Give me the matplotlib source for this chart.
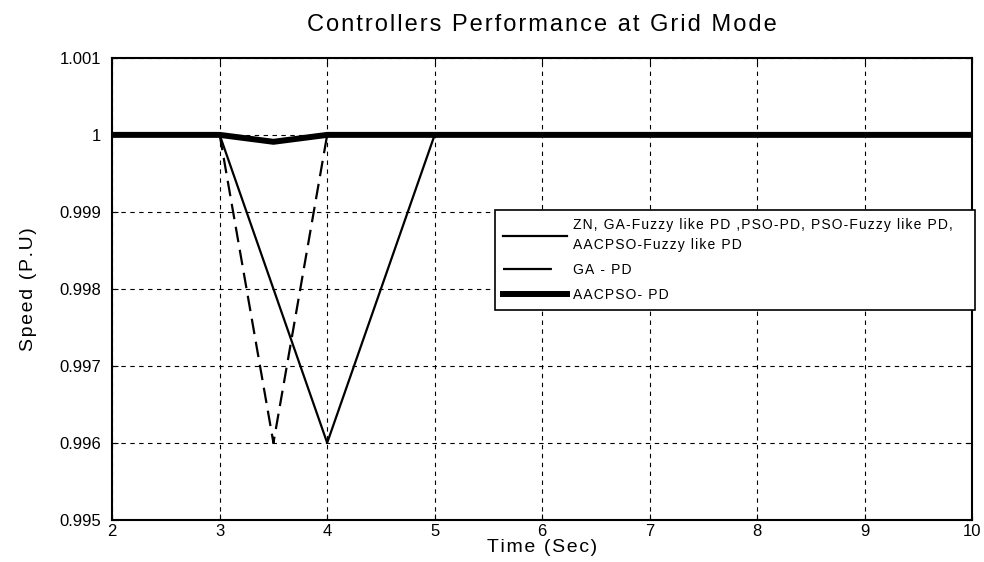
import matplotlib
matplotlib.use("Agg")
import matplotlib.pyplot as plt

plt.rcParams['font.family'] = ['Liberation Sans', 'DejaVu Sans']

# data
t_solid = [2, 3, 4, 5, 10]
w_solid = [1.0, 1.0, 0.996, 1.0, 1.0]
t_dash = [3, 3.5, 4]
w_dash = [1.0, 0.996, 1.0]
t_thick = [2, 3, 3.5, 4, 10]
w_thick = [1.0, 1.0, 0.99991, 1.0, 1.0]

labels = ['ZN, GA-Fuzzy like PD ,PSO-PD, PSO-Fuzzy like PD,\nAACPSO-Fuzzy like PD',
          'GA - PD',
          'AACPSO- PD']
xticks = [2, 3, 4, 5, 6, 7, 8, 9, 10]
yticks = [0.995, 0.996, 0.997, 0.998, 0.999, 1.0, 1.001]
ytick_labels = ['0.995', '0.996', '0.997', '0.998', '0.999', '1', '1.001']


def spaced(s, sp='\u200a'):
    # fake letter spacing, the original export had wide tracking
    return '\n'.join(sp.join(line) for line in s.split('\n'))


fig = plt.figure(figsize=(9.84, 5.62), dpi=100)
ax = fig.add_axes([0.114, 0.075, 0.874, 0.822])

l1, = ax.plot(t_solid, w_solid, color='k', lw=1.6)
l2, = ax.plot(t_dash, w_dash, color='k', lw=1.6, dashes=(7, 3.5))
l3, = ax.plot(t_thick, w_thick, color='k', lw=4.3)

ax.set_xlim(2, 10)
ax.set_ylim(0.995, 1.001)
ax.set_xticks(xticks)
ax.set_yticks(yticks)
ax.set_yticklabels(ytick_labels)
ax.tick_params(direction='in', labelsize=12, length=4, top=True, right=True)
ax.tick_params(axis='y', pad=8)
ax.tick_params(axis='x', pad=3)
ax.grid(True, color='k', linestyle=(0, (4, 4)), lw=0.8)
for s in ax.spines.values():
    s.set_linewidth(1.5)

ax.set_title(spaced('Controllers Performance at Grid Mode'), fontsize=17, pad=19)
ax.set_xlabel(spaced('Time (Sec)'), fontsize=14, labelpad=0)
ax.set_ylabel(spaced('Speed (P.U)'), fontsize=14, labelpad=16)

h2 = plt.Line2D([], [], color='k', lw=1.6, dashes=(22, 10))
leg = ax.legend([l1, h2, l3], [spaced(l) for l in labels], loc='upper left',
                bbox_to_anchor=(0.445, 0.455, 0.558, 0.216), mode='expand',
                fontsize=10, fancybox=False, framealpha=1, edgecolor='k',
                handlelength=4.6, handletextpad=0.4, labelspacing=0.8,
                borderpad=0.6, borderaxespad=0)
leg.get_frame().set_linewidth(1.2)
leg.get_texts()[0].set_linespacing(1.5)

fig.savefig('out.png', dpi=100)
